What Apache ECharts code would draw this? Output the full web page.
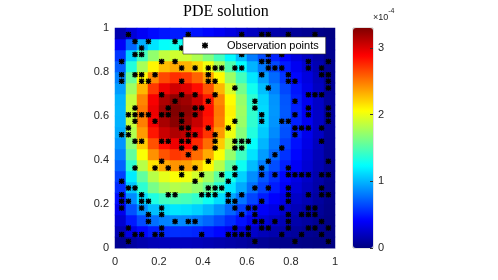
<!DOCTYPE html>
<html><head><meta charset="utf-8">
<script src="https://cdn.jsdelivr.net/npm/echarts@6/dist/echarts.min.js"></script>
<style>html,body{margin:0;padding:0;background:#fff;}#c{width:498px;height:280px;}</style>
</head><body><div id="c"></div>
<script>
// Heat-field cell centres (same for x and y), 20 x 20 cells
const cellCenters = ['0.025','0.075','0.125','0.175','0.225','0.275','0.325','0.375','0.425','0.475',
  '0.525','0.575','0.625','0.675','0.725','0.775','0.825','0.875','0.925','0.975'];

// PDE solution values (units of 1e-4), rows from y=0.025 (bottom) to y=0.975 (top)
const fieldRows = [
  [0.06,0.11,0.15,0.18,0.19,0.20,0.20,0.19,0.17,0.15,0.13,0.11,0.08,0.07,0.05,0.04,0.03,0.02,0.01,0.01],
  [0.17,0.32,0.43,0.50,0.54,0.56,0.55,0.53,0.48,0.43,0.36,0.30,0.24,0.19,0.15,0.12,0.09,0.06,0.04,0.02],
  [0.26,0.49,0.65,0.77,0.83,0.86,0.85,0.81,0.74,0.65,0.55,0.46,0.36,0.29,0.23,0.18,0.14,0.10,0.06,0.02],
  [0.35,0.67,0.88,1.03,1.12,1.16,1.14,1.09,1.00,0.88,0.74,0.61,0.49,0.39,0.32,0.25,0.18,0.13,0.08,0.03],
  [0.45,0.86,1.13,1.33,1.44,1.49,1.46,1.40,1.28,1.13,0.95,0.79,0.63,0.50,0.41,0.32,0.23,0.17,0.10,0.04],
  [0.55,1.05,1.38,1.62,1.76,1.82,1.79,1.71,1.57,1.38,1.16,0.96,0.77,0.62,0.50,0.39,0.29,0.20,0.13,0.05],
  [0.62,1.18,1.55,1.83,1.98,2.05,2.02,1.92,1.77,1.55,1.30,1.09,0.87,0.69,0.56,0.43,0.32,0.23,0.14,0.06],
  [0.73,1.39,1.83,2.15,2.34,2.41,2.37,2.26,2.08,1.83,1.53,1.28,1.02,0.82,0.66,0.51,0.38,0.27,0.17,0.07],
  [0.82,1.56,2.05,2.42,2.62,2.71,2.67,2.54,2.34,2.05,1.72,1.44,1.15,0.92,0.74,0.57,0.43,0.30,0.19,0.07],
  [0.89,1.69,2.23,2.63,2.85,2.94,2.89,2.76,2.54,2.23,1.87,1.56,1.25,1.00,0.80,0.62,0.46,0.33,0.20,0.08],
  [0.96,1.81,2.39,2.82,3.06,3.15,3.10,2.96,2.72,2.39,2.01,1.67,1.34,1.07,0.86,0.67,0.50,0.35,0.22,0.09],
  [0.99,1.88,2.48,2.92,3.17,3.27,3.22,3.07,2.82,2.48,2.08,1.73,1.39,1.11,0.89,0.69,0.51,0.37,0.23,0.09],
  [1.00,1.90,2.50,2.95,3.20,3.30,3.25,3.10,2.85,2.50,2.10,1.75,1.40,1.12,0.90,0.70,0.52,0.37,0.23,0.09],
  [0.99,1.87,2.46,2.91,3.15,3.25,3.20,3.05,2.81,2.46,2.07,1.72,1.38,1.10,0.89,0.69,0.51,0.36,0.23,0.09],
  [0.92,1.75,2.30,2.71,2.94,3.04,2.99,2.85,2.62,2.30,1.93,1.61,1.29,1.03,0.83,0.64,0.48,0.34,0.21,0.08],
  [0.83,1.58,2.08,2.45,2.66,2.74,2.70,2.57,2.37,2.08,1.74,1.45,1.16,0.93,0.75,0.58,0.43,0.31,0.19,0.07],
  [0.71,1.35,1.78,2.09,2.27,2.34,2.31,2.20,2.02,1.78,1.49,1.24,0.99,0.80,0.64,0.50,0.37,0.26,0.16,0.06],
  [0.58,1.10,1.45,1.71,1.86,1.91,1.89,1.80,1.65,1.45,1.22,1.02,0.81,0.65,0.52,0.41,0.30,0.21,0.13,0.05],
  [0.39,0.74,0.98,1.15,1.25,1.29,1.27,1.21,1.11,0.98,0.82,0.68,0.55,0.44,0.35,0.27,0.20,0.14,0.09,0.04],
  [0.15,0.29,0.38,0.44,0.48,0.50,0.49,0.47,0.43,0.38,0.32,0.26,0.21,0.17,0.14,0.11,0.08,0.06,0.03,0.01]
];

// Observation points, grouped by row: y value and the x values on that row
const obsRowY = [0.970,0.939,0.909,0.879,0.848,0.818,0.788,0.758,0.727,0.697,0.667,0.636,0.606,0.576,0.545,0.515,
  0.485,0.455,0.424,0.394,0.364,0.333,0.303,0.273,0.242,0.212,0.182,0.152,0.121,0.091,0.061,0.030];
const obsRowX = [
  [0.061,0.333,0.576,0.667,0.697,0.788,0.909],
  [0.091,0.152,0.273],
  [0.121,0.303],
  [0.091,0.121,0.576,0.697,0.758],
  [0.030,0.212,0.273,0.667,0.697,0.879,0.970],
  [0.303,0.364,0.424,0.455,0.485,0.545,0.576,0.697,0.727,0.758,0.879,0.939],
  [0.030,0.091,0.121,0.182,0.424,0.667,0.788,0.939,0.970],
  [0.030,0.121,0.152,0.303,0.424,0.455,0.788,0.818,0.970],
  [0.545,0.697,0.970],
  [0.212,0.303,0.364,0.455,0.879,0.909,0.939],
  [0.273,0.424,0.636,0.818],
  [0.091,0.242,0.364,0.394,0.636,0.879,0.970],
  [0.061,0.091,0.121,0.152,0.212,0.242,0.303,0.364,0.667,0.818,0.879,0.970],
  [0.091,0.182,0.303,0.545,0.667,0.758,0.788,0.970],
  [0.061,0.303,0.333,0.424,0.515,0.818,0.848,0.879,0.939],
  [0.030,0.061,0.333,0.364,0.455,0.818],
  [0.091,0.121,0.212,0.242,0.303,0.333,0.455,0.545,0.576,0.606,0.939],
  [0.303,0.364,0.455,0.545,0.576,0.758],
  [0.333,0.727],
  [0.212,0.424,0.697,0.970],
  [0.091,0.182,0.242,0.303,0.364,0.545,0.667,0.788],
  [0.303,0.394,0.485,0.545,0.667,0.727,0.788,0.818,0.848,0.879,0.939,0.970],
  [0.030,0.364,0.515],
  [0.061,0.091,0.424,0.455,0.485,0.636,0.697,0.788,0.939],
  [0.030,0.121,0.242,0.273,0.394,0.424,0.455,0.515,0.576,0.788,0.879,0.939,0.970],
  [0.030,0.061,0.121,0.152,0.515,0.545,0.667,0.788],
  [0.030,0.121,0.212,0.545,0.606,0.636,0.758,0.879,0.909],
  [0.152,0.212,0.576,0.636,0.788,0.848,0.879,0.909],
  [0.152,0.273,0.333,0.364,0.636,0.667,0.727,0.788,0.939],
  [0.061,0.212,0.545,0.606,0.667,0.697,0.788,0.879,0.909,0.970],
  [0.030,0.091,0.121,0.182,0.212,0.394,0.515,0.545,0.576,0.606,0.758,0.848,0.939],
  [0.061,0.636,0.818,0.970]
];

const colorbarMin = 0, colorbarMax = 3.3;
const jetColors = ['#000080','#0000ff','#0080ff','#00ffff','#80ff80','#ffff00','#ff8000','#ff0000','#800000'];

const heatData = [];
fieldRows.forEach((row, j) => row.forEach((v, k) => heatData.push([k, j, v])));
const obsData = [];
obsRowY.forEach((y, r) => obsRowX[r].forEach(x => obsData.push([x, y])));

const asterisk = 'path://M3.5,0H6.5V10H3.5Z M0,3.5H10V6.5H0Z M1.4,0L10,8.6L8.6,10L0,1.4Z M8.6,0L10,1.4L1.4,10L0,8.6Z';
const txt = '#262626';
const sans = 'Liberation Sans';

const chart = echarts.init(document.getElementById('c'), null, {renderer: 'canvas'});
chart.setOption({
  animation: false,
  backgroundColor: '#fff',
  title: {
    text: 'PDE solution', left: 183, top: 4, padding: 0,
    textStyle: {fontFamily: 'Liberation Serif', fontSize: 16, fontWeight: 'normal', color: '#000'}
  },
  legend: {
    data: ['Observation points'], left: 183, top: 37,
    padding: [3, 7, 3, 19], itemWidth: 34, itemHeight: 6,
    backgroundColor: '#fff', borderColor: '#262626', borderWidth: 0.6, borderRadius: 0,
    textStyle: {fontFamily: sans, fontSize: 11, color: '#000'},
    selectedMode: false
  },
  grid: [
    {left: 115, top: 28, width: 220, height: 220, outerBoundsMode: 'none', containLabel: false},
    {left: 353, top: 28, width: 20, height: 220, outerBoundsMode: 'none', containLabel: false,
     show: true, borderColor: '#9a9a9a', borderWidth: 0.6, backgroundColor: 'transparent'}
  ],
  xAxis: [
    {type: 'value', gridIndex: 0, min: 0, max: 1, interval: 0.2,
     axisLine: {show: true, lineStyle: {color: '#b4b4d8', width: 1}}, axisTick: {show: false},
     splitLine: {show: false},
     axisLabel: {margin: 8, fontFamily: sans, fontSize: 11, color: txt}},
    {type: 'category', gridIndex: 0, data: cellCenters, show: false},
    {type: 'value', gridIndex: 1, min: 0, max: 1, show: false}
  ],
  yAxis: [
    {type: 'value', gridIndex: 0, min: 0, max: 1, interval: 0.2,
     axisLine: {show: false}, axisTick: {show: false}, splitLine: {show: false},
     axisLabel: {margin: 6, fontFamily: sans, fontSize: 11, color: txt}},
    {type: 'category', gridIndex: 0, data: cellCenters, show: false},
    {type: 'value', gridIndex: 1, min: colorbarMin, max: colorbarMax, interval: 1, position: 'right', z: 10,
     axisLine: {show: false, onZero: false}, splitLine: {show: false},
     axisTick: {show: true, inside: true, length: 3, lineStyle: {color: '#333'}},
     axisLabel: {margin: 5, fontFamily: sans, fontSize: 11, color: txt, showMaxLabel: false},
     name: '{a|×10}{b|-4}', nameLocation: 'end', nameGap: 6, nameMoveOverlap: false,
     nameTextStyle: {align: 'left', rich: {
       a: {fontFamily: sans, fontSize: 9, color: txt, lineHeight: 14, verticalAlign: 'bottom'},
       b: {fontFamily: sans, fontSize: 7, color: txt, lineHeight: 14, verticalAlign: 'top'}
     }}}
  ],
  visualMap: {
    type: 'continuous', min: colorbarMin, max: colorbarMax, seriesIndex: 0,
    left: 353, top: 28, itemWidth: 20, itemHeight: 220, padding: 0,
    calculable: false, showLabel: false, text: null, hoverLink: false,
    inRange: {color: jetColors}
  },
  series: [
    {type: 'heatmap', xAxisIndex: 1, yAxisIndex: 1, data: heatData, progressive: 0,
     itemStyle: {borderWidth: 0}, emphasis: {disabled: true}, silent: true},
    {type: 'scatter', name: 'Observation points', xAxisIndex: 0, yAxisIndex: 0,
     data: obsData, symbol: asterisk, symbolSize: 5.5,
     itemStyle: {color: '#000', opacity: 1}, silent: true}
  ]
});
</script></body></html>
